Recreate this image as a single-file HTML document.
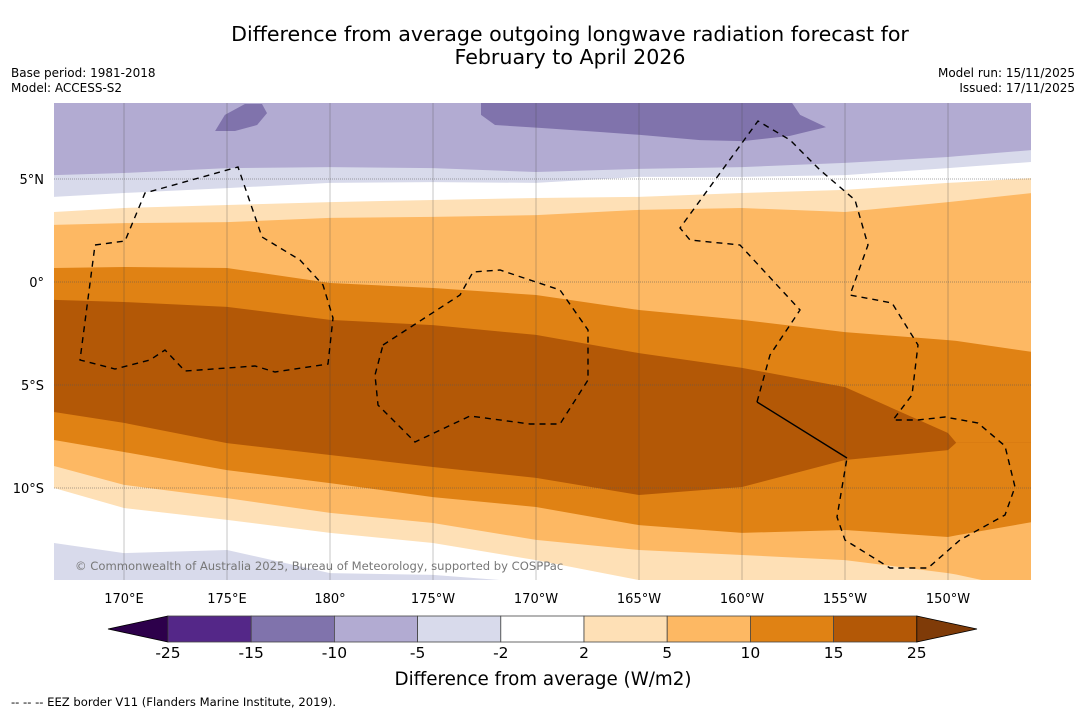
<!DOCTYPE html>
<html><head><meta charset="utf-8"><style>
body{margin:0;background:#fff;width:1085px;height:713px;overflow:hidden;font-family:"DejaVu Sans","Liberation Sans",sans-serif;}
</style></head><body>
<svg id="chart" width="1085" height="713" xmlns="http://www.w3.org/2000/svg" font-family="DejaVu Sans, Liberation Sans, sans-serif">
<text x="570" y="41" font-size="20.6" text-anchor="middle">Difference from average outgoing longwave radiation forecast for</text>
<text x="570" y="64" font-size="20.6" text-anchor="middle">February to April 2026</text>
<text x="11" y="77" font-size="12">Base period: 1981-2018</text>
<text x="11" y="92" font-size="12">Model: ACCESS-S2</text>
<text x="1075" y="77" font-size="12" text-anchor="end">Model run: 15/11/2025</text>
<text x="1075" y="92" font-size="12" text-anchor="end">Issued: 17/11/2025</text>
<defs><clipPath id="mapclip"><rect x="54" y="103" width="977" height="477"/></clipPath></defs>
<g id="map" clip-path="url(#mapclip)"></g>
<g id="axes"></g>
<g id="cbar"></g>
<text x="543" y="685" font-size="18.3" text-anchor="middle">Difference from average (W/m2)</text>
<text x="11" y="706" font-size="11.6">--  --  -- EEZ border V11 (Flanders Marine Institute, 2019).</text>
</svg>
<script>
const lons = [166.6,170,175,180,185,190,195,200,205,210,210.4,214.1];
const b1 = [5.19,5.29,5.53,5.58,5.53,5.34,5.49,5.58,5.78,6.07,6.10,6.41];
const b2 = [4.13,4.32,4.56,4.81,4.85,4.81,5.10,5.10,5.19,5.53,5.56,5.83];
const b3 = [3.40,3.59,3.74,3.88,3.98,4.08,4.13,4.32,4.47,4.81,4.83,5.05];
const b4 = [2.77,2.86,2.91,3.11,3.16,3.25,3.50,3.59,3.40,3.88,3.92,4.32];
const b5 = [0.68,0.73,0.68,-0.05,-0.29,-0.63,-1.36,-1.84,-2.43,-2.82,-2.86,-3.40];
const b6 = [-0.87,-0.97,-1.21,-1.84,-2.09,-2.57,-3.45,-4.17,-5.10,-7.33,-7.8,-7.8];
const b7 = [-6.31,-6.84,-7.82,-8.40,-8.98,-9.51,-10.34,-9.95,-8.64,-8.16,-7.8,-7.8];
const b8 = [-7.67,-8.25,-9.13,-9.76,-10.44,-10.92,-11.80,-12.18,-12.04,-12.38,-12.3,-11.65];
const b9 = [-8.93,-9.85,-10.49,-11.21,-11.70,-12.52,-13.01,-13.25,-13.50,-14.13,-14.2,-15];
const b10 = [-10.0,-10.97,-11.55,-12.18,-12.67,-13.50,-14.47,-15,-15,-15,-15,-15];
const b11 = [-12.67,-13.16,-13.01,-14.13,-14.22,-14.6,-15,-15,-15,-15,-15,-15];
const patch1Lon = [174.42,174.90,175.87,176.70,176.94,176.46,175.39];
const patch1Lat = [7.33,8.11,8.64,8.64,8.20,7.62,7.33];
const patch2Lon = [187.33,187.33,188.01,190.19,193.11,195.05,197.96,200.05,202.33,204.08,202.82,202.09];
const patch2Lat = [9.2,8.11,7.62,7.48,7.28,7.14,6.89,6.84,7.09,7.52,8.11,9.2];
const levels = ["-25","-15","-10","-5","-2","2","5","10","15","25"];
const lonTicks = [170,175,180,185,190,195,200,205,210];
const lonTickLabels = ["170°E","175°E","180°","175°W","170°W","165°W","160°W","155°W","150°W"];
const latTicks = [5,0,-5,-10];
const latTickLabels = ["5°N","0°","5°S","10°S"];

const NS="http://www.w3.org/2000/svg";
const X = lon => 124 + (lon-170)*20.6;
const Y = lat => 282 - lat*20.6;
const map = document.getElementById('map');
function mk(tag, attrs, parent){const e=document.createElementNS(NS,tag);for(const k in attrs)e.setAttribute(k,attrs[k]);parent.appendChild(e);return e;}

let bg = mk('rect',{x:54,y:103,width:977,height:477,fill:'#b2abd2'},map);



function band(b, color, name){
  let d='M'+X(lons[0])+','+Y(b[0]);
  for(let i=1;i<lons.length;i++) d+=' L'+X(lons[i]).toFixed(1)+','+Y(b[i]).toFixed(1);
  d+=' L'+X(lons[lons.length-1])+',700 L'+X(lons[0])+',700 Z';
  const p=mk('path',{d:d,fill:color},map);
  
  
}
function poly(lo, la, color, name){
  const pts=lo.map((v,i)=>X(v).toFixed(1)+','+Y(la[i]).toFixed(1)).join(' ');
  const p=mk('polygon',{points:pts,fill:color},map);
  
  
}
poly(patch1Lon,patch1Lat,'#8073ac','band-minus15-patch-west');
poly(patch2Lon,patch2Lat,'#8073ac','band-minus15-patch-east');
band(b1,'#d8daeb','band-north-minus5-minus2');
band(b2,'#ffffff','band-north-neutral');
band(b3,'#fee0b6','band-north-2-5');
band(b4,'#fdb863','band-north-5-10');
band(b5,'#e08214','band-north-10-15');
band(b6,'#b35806','band-15-25');
band(b7,'#e08214','band-south-10-15');
band(b8,'#fdb863','band-south-5-10');
band(b9,'#fee0b6','band-south-2-5');
band(b10,'#ffffff','band-south-neutral');
band(b11,'#d8daeb','band-south-minus5-minus2');

// grid
lonTicks.forEach(l=>{const g=mk('line',{x1:X(l),x2:X(l),y1:103,y2:580,stroke:'#444','stroke-width':0.5,'stroke-opacity':0.6},map);

});
latTicks.forEach(l=>{const g=mk('line',{x1:54,x2:1031,y1:Y(l),y2:Y(l),stroke:'#555','stroke-width':0.6,'stroke-dasharray':'1,1'},map);

});

// EEZ borders
const eez=[
 "M95,245 L125,241 L145,193 L238,167 L262,237 L300,260 L323,285 L333,318 L328,364 L275,372 L255,366 L185,371 L165,350 L150,360 L115,369 L80,360 Z",
 "M383,345 L460,295 L473,272 L500,270 L560,290 L588,330 L588,380 L560,424 L530,424 L470,416 L415,442 L378,405 L375,375 Z",
 "M757,402 L770,355 L800,310 L740,245 L690,240 L680,228 L758,121 L790,140 L820,170 L855,200 L868,245 L850,295 L892,303 L918,345 L912,395 L893,420 L918,420 L945,417 L978,423 L1005,446 L1015,487 L1005,515 L960,540 L928,568 L890,568 L845,540 L837,517 L847,458"
];
eez.forEach(d=>{const p=mk('path',{d:d,fill:'none',stroke:'#000','stroke-width':1.4,'stroke-dasharray':'6,5'},map);

});
const sl=mk('line',{x1:757,y1:402,x2:847,y2:458,stroke:'#000','stroke-width':1.4},map);



const cr=mk('text',{x:75,y:570,'font-size':11.6,fill:'#777'},map);
cr.textContent='© Commonwealth of Australia 2025, Bureau of Meteorology, supported by COSPPac';



// axes labels
const axes=document.getElementById('axes');
lonTicks.forEach((l,i)=>{const t=mk('text',{x:X(l),y:603,'font-size':13,'text-anchor':'middle'},axes);t.textContent=lonTickLabels[i];

});
latTicks.forEach((l,i)=>{const t=mk('text',{x:44,y:Y(l)+5,'font-size':13,'text-anchor':'end'},axes);t.textContent=latTickLabels[i];

});

// colorbar
const cb=document.getElementById('cbar');
const cols=['#542788','#8073ac','#b2abd2','#d8daeb','#ffffff','#fee0b6','#fdb863','#e08214','#b35806'];
const cx0=168, cw=83.2, cy=616, ch=26;
const lt=mk('polygon',{points:`108,${cy+ch/2} ${cx0},${cy} ${cx0},${cy+ch}`,fill:'#2d004b',stroke:'#000','stroke-width':0.8},cb);


cols.forEach((c,i)=>{const r=mk('rect',{x:cx0+i*cw,y:cy,width:cw,height:ch,fill:c,stroke:'#444','stroke-width':0.8},cb);

});
const rx=cx0+9*cw;
const rt=mk('polygon',{points:`${rx},${cy} 977,${cy+ch/2} ${rx},${cy+ch}`,fill:'#7f3b08',stroke:'#000','stroke-width':0.8},cb);


levels.forEach((v,i)=>{const t=mk('text',{x:cx0+i*cw,y:658,'font-size':15.5,'text-anchor':'middle'},cb);t.textContent=v;

});
</script>
</body></html>
